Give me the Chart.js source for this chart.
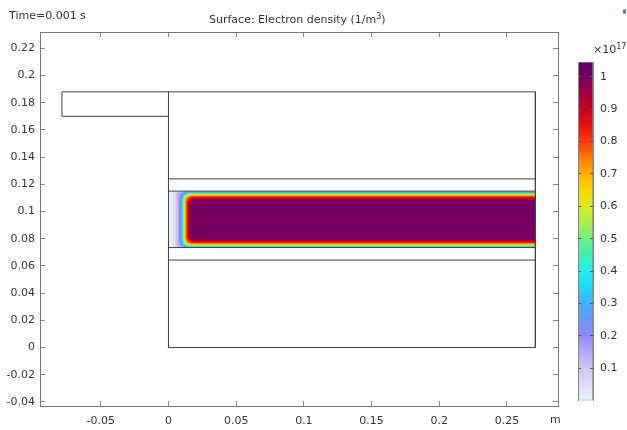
<!DOCTYPE html>
<html>
<head>
<meta charset="utf-8">
<script src="https://cdn.jsdelivr.net/npm/chart.js@4"></script>
<style>
    body { margin: 0; background: #fff; }
    #wrap { position: relative; width: 627px; height: 430px; overflow: hidden; font: 11px "DejaVu Sans", sans-serif; color: #333; }
    canvas { position: absolute; top: 0; }
    .lbl { position: absolute; white-space: nowrap; line-height: 14px; }
    sup { font-size: 8px; line-height: 0; vertical-align: 4px; }
    #mark { position: absolute; left: 623px; top: 9px; width: 3px; height: 5px; background: #4a7fc0; border-radius: 2px; filter: blur(0.6px); }
</style>
</head>
<body>
<div id="wrap">
    <canvas id="fieldChart" width="627" height="430" style="left:0"></canvas>
    <canvas id="barChart" width="67" height="430" style="left:560px"></canvas>
    <div class="lbl" style="left:9px;top:9px">Time=0.001 s</div>
    <div class="lbl" style="left:209px;top:13px">Surface: Electron density (1/m<sup>3</sup>)</div>
    <div class="lbl" style="left:593px;top:43px">×10<sup>17</sup></div>
    <div class="lbl" style="left:550px;top:413px">m</div>
    <div id="mark"></div>
</div>
<script>
// Axis ticks
const xTicks = [-0.05, 0, 0.05, 0.1, 0.15, 0.2, 0.25];
const yTicks = [-0.04, -0.02, 0, 0.02, 0.04, 0.06, 0.08, 0.1, 0.12, 0.14, 0.16, 0.18, 0.2, 0.22];
const barTicks = [0.1, 0.2, 0.3, 0.4, 0.5, 0.6, 0.7, 0.8, 0.9, 1];

// Geometry outline (m)
const outlineX = [-0.0787, 0.271, 0.271, 0, 0, -0.0787, -0.0787];
const outlineY = [0.188, 0.188, 0, 0, 0.17, 0.17, 0.188];
const dividerX = [0, 0];
const dividerY = [0.188, 0];
const channelLinesY = [0.124, 0.115, 0.0735, 0.0643];
const domainRight = 0.271;

// Colour table of the density (x 1e17)
const stopValues = [0, 0.05, 0.1, 0.15, 0.2, 0.25, 0.3, 0.35, 0.4, 0.45, 0.5, 0.55, 0.6, 0.65, 0.7, 0.75, 0.8, 0.85, 0.9, 0.95, 1, 1.046];
const stopColors = ['#eeeefa', '#dedcf5', '#cdc6f0', '#b4a8f4', '#9288fb', '#6a96ff', '#40b0ff', '#20d8f8', '#20f0f0', '#40f0b0',
    '#70f080', '#a8f050', '#dcec20', '#f8d800', '#ffb000', '#ff7800', '#ff3a08', '#e81010', '#c80028', '#a00040', '#750060', '#5e0068'];

// Density contours: left edge, top, bottom and corner rounding (m)
const contourLevels = [0, 0.05, 0.1, 0.15, 0.2, 0.25, 0.3, 0.35, 0.4, 0.45, 0.5, 0.55, 0.6, 0.65, 0.7, 0.75, 0.8, 0.85, 0.9, 0.95, 1];
const contourLeft = [0, 0.0033, 0.0055, 0.0068, 0.0078, 0.0085, 0.0092, 0.0098, 0.0101, 0.0105, 0.0108, 0.0111, 0.0114, 0.0118, 0.0122, 0.0127, 0.0131, 0.0137, 0.0144, 0.015, 0.0159];
const contourTop = [0.115, 0.1149, 0.1148, 0.1147, 0.1145, 0.1143, 0.1141, 0.1139, 0.1136, 0.1134, 0.1132, 0.1129, 0.1126, 0.1123, 0.112, 0.1116, 0.1112, 0.1107, 0.1101, 0.1093, 0.1085];
const contourBottom = [0.0735, 0.0735, 0.0736, 0.0736, 0.0737, 0.0738, 0.0739, 0.0741, 0.0743, 0.0745, 0.0747, 0.075, 0.0753, 0.0756, 0.0759, 0.0763, 0.0767, 0.0772, 0.0778, 0.0785, 0.0794];
const contourRound = [0, 0.001, 0.001, 0.002, 0.0045, 0.0045, 0.0045, 0.0045, 0.0045, 0.0045, 0.0045, 0.004, 0.004, 0.004, 0.004, 0.004, 0.004, 0.004, 0.004, 0.004, 0.004];

function contourShape(i) {
    const l = contourLeft[i], t = contourTop[i], b = contourBottom[i], r = contourRound[i];
    return [
        { x: l + r, y: b }, { x: domainRight, y: b }, { x: domainRight, y: t }, { x: l + r, y: t },
        { x: l + r * 0.29, y: t - r * 0.29 }, { x: l, y: t - r }, { x: l, y: b + r },
        { x: l + r * 0.29, y: b + r * 0.29 }, { x: l + r, y: b }
    ];
}

const datasets = contourLevels.map((level, i) => ({
    data: contourShape(i),
    showLine: true,
    fill: 'shape',
    backgroundColor: stopColors[stopValues.indexOf(level)],
    borderWidth: 0,
    pointRadius: 0,
    order: contourLevels.length - i
}));

function outline(points) {
    return { data: points, showLine: true, fill: false, borderColor: '#444', borderWidth: 1, pointRadius: 0, order: -1 };
}
datasets.push(outline(outlineX.map((x, i) => ({ x, y: outlineY[i] }))));
datasets.push(outline(dividerX.map((x, i) => ({ x, y: dividerY[i] }))));
channelLinesY.forEach(y => datasets.push(outline([{ x: 0, y }, { x: domainRight, y }])));

const tickFont = { family: '"DejaVu Sans", sans-serif', size: 11 };

function plotAxis(position, ticks, size, showLabels, min, max) {
    return {
        type: 'linear',
        position,
        min,
        max,
        grid: { drawOnChartArea: false, color: '#888', tickLength: -5 },
        border: { color: '#777' },
        ticks: {
            display: showLabels,
            font: tickFont,
            color: '#333',
            maxRotation: 0,
            autoSkip: false,
            padding: position === 'bottom' ? 14 : 10,
            callback: v => String(v)
        },
        afterBuildTicks: s => { s.ticks = ticks.map(value => ({ value })); },
        afterFit: s => {
            if (s.isHorizontal()) s.height = size; else s.width = size;
        }
    };
}

new Chart(document.getElementById('fieldChart'), {
    type: 'scatter',
    data: { datasets },
    options: {
        responsive: false,
        animation: false,
        layout: { padding: { left: 0, right: 69, top: 32, bottom: 0 } },
        plugins: { legend: { display: false }, tooltip: { enabled: false } },
        scales: {
            x: plotAxis('bottom', xTicks, 24, true, -0.0949, 0.2877),
            y: plotAxis('left', yTicks, 40, true, -0.043, 0.232),
            xTop: plotAxis('top', xTicks, 0, false, -0.0949, 0.2877),
            yRight: plotAxis('right', yTicks, 0, false, -0.043, 0.232)
        }
    }
});

// Colour bar
function barGradient(context) {
    const { chart } = context;
    if (!chart.chartArea) return '#888';
    const scale = chart.scales.y;
    const g = chart.ctx.createLinearGradient(0, scale.getPixelForValue(0), 0, scale.getPixelForValue(1.046));
    stopValues.forEach((v, i) => g.addColorStop(v / 1.046, stopColors[i]));
    return g;
}

function barAxis(position, size, showLabels) {
    return {
        type: 'linear',
        position,
        min: 0,
        max: 1.046,
        grid: { drawOnChartArea: false, color: '#555', tickLength: -3, z: 1 },
        border: { color: '#888', z: 1 },
        ticks: {
            display: showLabels,
            font: tickFont,
            color: '#333',
            padding: 10,
            autoSkip: false,
            callback: v => String(v)
        },
        afterBuildTicks: s => { s.ticks = barTicks.map(value => ({ value })); },
        afterFit: s => { s.width = size; }
    };
}

new Chart(document.getElementById('barChart'), {
    type: 'bar',
    data: {
        labels: [''],
        datasets: [{
            data: [[0, 1.046]],
            yAxisID: 'y',
            backgroundColor: barGradient,
            borderColor: '#888',
            borderWidth: 1,
            borderSkipped: false,
            barPercentage: 1,
            categoryPercentage: 1
        }]
    },
    options: {
        responsive: false,
        animation: false,
        layout: { padding: { left: 18, right: 0, top: 62, bottom: 29.5 } },
        plugins: { legend: { display: false }, tooltip: { enabled: false } },
        scales: {
            x: { display: false },
            y: barAxis('right', 34, true),
            yLeft: barAxis('left', 0, false)
        }
    }
});
</script>
</body>
</html>
